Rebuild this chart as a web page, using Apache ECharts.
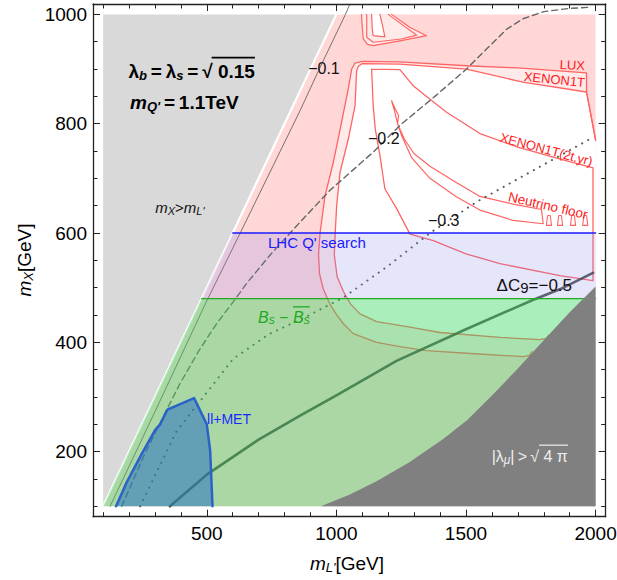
<!DOCTYPE html>
<html><head><meta charset="utf-8">
<script src="https://cdn.jsdelivr.net/npm/echarts@6/dist/echarts.min.js"></script>
<style>html,body{margin:0;padding:0;background:#fff}#c{width:617px;height:580px}</style>
</head><body><div id="c"></div>
<script>
// ---------------- data ----------------
const xMajor = [500, 1000, 1500, 2000];
const xMinor = [100,200,300,400,500,600,700,800,900,1000,1100,1200,1300,1400,1500,1600,1700,1800,1900,2000];
const yMajor = [200, 400, 600, 800, 1000];
const yMinor = [100,150,200,250,300,350,400,450,500,550,600,650,700,750,800,850,900,950,1000];

// m_X > m_L' region
const grayRegion = [[100,100],[1000,1000],[100,1000]];
const diagLine = [[100,100],[1000,1000]];
// LUX excluded (everything right of diagonal, minus LUX interior)
const pinkRegion = [[100,100],[1000,1000],[2000,1000],[2000,100]];
// LUX contour (visible part) and its closure hidden under the perturbativity region
const luxLine = [[2000,770],[1998,776],[1965,858],[1965,893],[1700,902],[1502,906],[1245,913],[1100,914],[1072,911],[1059,900],[1046,864],[1020,803],[988,729],[956,668],[937,600],[931,560],[935,525],[950,497],[975,470],[1000,451],[1027,434],[1065,416],[1155,400],[1245,392],[1348,385],[1502,380],[1720,374],[1745,376],[1755,383]];
const luxClose = [[1850,383],[2000,383]];
// XENON1T contour
const xenonLine = [[2000,770],[1965,858],[1719,876],[1502,900],[1245,909],[1100,910],[1085,905],[1078,897],[1072,833],[1046,772],[1014,711],[1001,650],[995,595],[992,560],[1003,520],[1027,493],[1055,470],[1091,452],[1155,438],[1284,428],[1400,418],[1631,409],[1785,405],[1810,407],[1818,413]];
const xenonClose = [[1900,413],[2000,413]];
// XENON1T(2t.yr) contour
const xenon2tLine = [[1136,900],[1245,899],[1295,870],[1360,845],[1425,821],[1554,782],[1700,757],[1850,737],[1990,719],[1990,513],[1862,522],[1631,544],[1500,562],[1374,586],[1284,598],[1232,645],[1187,681],[1168,742],[1150,790],[1142,833],[1136,900]];
// Neutrino floor contour
const nuFloorLine = [[1213,842],[1228,826],[1240,815],[1236,800],[1262,772],[1300,745],[1361,722],[1464,692],[1554,667],[1682,653],[1791,643],[1798,617],[1682,623],[1554,642],[1464,666],[1361,700],[1290,738],[1252,778],[1236,800],[1225,822],[1213,842]];
const nuTeeth = [
  [[1810,614],[1815,632],[1825,632],[1830,614],[1810,614]],
  [[1853,614],[1858,632],[1868,632],[1873,614],[1853,614]],
  [[1903,614],[1908,632],[1918,632],[1923,614],[1903,614]],
  [[1950,614],[1955,632],[1965,632],[1970,614],[1950,614]]
];
// small island near the top
const islandOuter = [[1097,1000],[1100,975],[1104,955],[1120,945],[1142,943],[1250,952],[1348,961],[1284,976],[1213,1000]];
const islandMid = [[1117,1000],[1117,958],[1142,949],[1250,955],[1310,962],[1260,979],[1200,1000]];
const islandInner = [[1136,1000],[1138,975],[1142,961],[1187,959],[1180,975],[1168,1000]];

// Delta C9 contours
const c01 = [[127,100],[300,273],[500,476],[629,600],[860,824],[937,903],[1035,1000],[1052,1019]];
const c02 = [[172,100],[255,190],[330,262],[397,325],[470,385],[539,435],[602,474],[654,508],[750,563],[860,620],[975,678],[1142,748],[1250,799],[1380,850],[1502,900],[1580,937],[1657,973],[1720,992],[1800,1005],[1900,1011],[1978,1013]];
const c03 = [[243,100],[301,157],[384,238],[500,308],[602,370],[740,415],[880,446],[1027,482],[1200,540],[1361,600],[1541,657],[1780,720],[1990,775]];
const c05 = [[358,100],[500,158],[700,222],[860,266],[1000,303],[1232,366],[1500,424],[1760,478],[1862,497],[1990,527]];

// LHC Q' search, Bs mixing
const lhcRegion = [[480,480],[600,600],[2000,600],[2000,480]];
const lhcLine = [[600,600],[2000,600]];
const bsRegion = [[100,100],[480,480],[2000,480],[2000,100]];
const bsLine = [[480,480],[2000,480]];
// ll+MET
const llmet = [[150,100],[191,144],[249,196],[301,240],[320,250],[348,277],[451,298],[500,250],[513,202],[522,100]];
// |lambda_mu| > sqrt(4 pi)
const lamRegion = [[940,100],[1050,121],[1155,146],[1280,180],[1412,223],[1505,258],[1605,305],[1700,352],[1800,404],[1900,455],[2000,502],[2000,100]];

// ---------------- chart ----------------
const FONT = "'Liberation Sans', Arial, Helvetica, sans-serif";
const chart = echarts.init(document.getElementById('c'), null, {renderer: 'svg'});
const FRAME = '#222';
let zc = 1;
function poly(pts, fill) {
  return {type: 'custom', silent: true, animation: false, clip: true, z: zc++, data: [[pts[0][0], pts[0][1]]],
    renderItem: (params, api) => ({type: 'polygon', shape: {points: pts.map(p => api.coord(p))}, style: {fill: fill, stroke: null}})};
}
function line(pts, color, width, type, opacity) {
  return {type: 'line', silent: true, animation: false, z: zc++, data: pts, symbol: 'none', smooth: false,
    lineStyle: {color: color, width: width, type: type || 'solid', cap: 'round', join: 'round', opacity: opacity == null ? 1 : opacity}};
}
const plain = v => String(v);
function mkX(pos, ticks, len, showLine, showLabel) {
  return {type: 'value', min: 61, max: 2039, position: pos, z: 100,
    axisLine: {show: showLine, onZero: false, lineStyle: {color: FRAME, width: 1.3}},
    axisTick: {show: true, inside: true, length: len, customValues: ticks, lineStyle: {color: FRAME, width: 1}},
    axisLabel: {show: showLabel, customValues: ticks, formatter: plain, fontSize: 19, color: '#000', fontFamily: FONT, margin: 7},
    splitLine: {show: false}};
}
function mkY(pos, ticks, len, showLine, showLabel) {
  return {type: 'value', min: 81, max: 1019, position: pos, z: 100,
    axisLine: {show: showLine, onZero: false, lineStyle: {color: FRAME, width: 1.3}},
    axisTick: {show: true, inside: true, length: len, customValues: ticks, lineStyle: {color: FRAME, width: 1}},
    axisLabel: {show: showLabel, customValues: ticks, formatter: plain, fontSize: 19, color: '#000', fontFamily: FONT, margin: 6},
    splitLine: {show: false}};
}

const red = '#ff6464';
const series = [
  poly(grayRegion, '#d9d9d9'),
  poly(pinkRegion, '#ffd7d7'),
  poly(luxLine.concat(luxClose), '#ffeaea'),
  poly(xenonLine.concat(xenonClose), '#ffffff'),
  poly(islandOuter, '#ffeaea'),
  poly(islandInner, '#ffffff'),
  line(diagLine, '#ffffff', 2.2),
  line(luxLine, red, 1.3),
  line(xenonLine, red, 1.3),
  line(xenon2tLine, red, 1.3),
  line(nuFloorLine, red, 1.2),
  line(nuTeeth[0], red, 1.1), line(nuTeeth[1], red, 1.1), line(nuTeeth[2], red, 1.1), line(nuTeeth[3], red, 1.1),
  line(islandOuter, red, 1.2), line(islandMid, red, 1.2), line(islandInner, red, 1.2),
  line(c01, '#555555', 0.8),
  line(c02, '#666666', 1.4, [6, 4]),
  line(c03, '#555555', 2.0, [0.1, 6.8]),
  line(c05, 'rgba(45,45,45,0.8)', 2.6),
  poly(lhcRegion, 'rgba(136,136,231,0.21)'),
  poly(bsRegion, 'rgba(53,215,93,0.42)'),
  line(lhcLine, '#1a1aff', 1.3),
  line(bsLine, '#22aa22', 1.2),
  poly(llmet, 'rgba(30,100,200,0.49)'),
  line(llmet, '#2a62c8', 2.5),
  poly(lamRegion, '#808080')
];

chart.setOption({
  animation: false,
  backgroundColor: '#fff',
  grid: {left: 93, right: 11.3, top: 4, bottom: 63.3, containLabel: false, outerBoundsMode: 'none'},
  xAxis: [mkX('bottom', xMajor, 7, true, true), mkX('bottom', xMinor, 4.5, false, false),
          mkX('top', xMajor, 7, true, false), mkX('top', xMinor, 4.5, false, false)],
  yAxis: [mkY('left', yMajor, 7, true, true), mkY('left', yMinor, 4.5, false, false),
          mkY('right', yMajor, 7, true, false), mkY('right', yMinor, 4.5, false, false)],
  series: series
});

// ---------------- text annotations ----------------
const ctx = document.createElement('canvas').getContext('2d');
function tw(t, s) { ctx.font = (s.style || 'normal') + ' ' + (s.weight || 'normal') + ' ' + s.size + 'px ' + FONT; return ctx.measureText(t).width; }
const NB = '\u00a0', TH = '\u2009';
function label(px, py, segs, color, opt) {
  opt = opt || {};
  let text = '', rich = {}, x = 0; const offs = [];
  segs.forEach((s, i) => {
    const k = 't' + i;
    rich[k] = {fontSize: s.size, fontWeight: s.weight || 'normal', fontStyle: s.style || 'normal', fontFamily: FONT, fill: color};
    if (s.sub) rich[k].padding = [s.sub, 0, 0, 0];
    text += '{' + k + '|' + s.t + '}';
    offs.push(x); x += tw(s.t, s);
  });
  const align = opt.align || 'left';
  const left = align === 'left' ? 0 : (align === 'center' ? -x / 2 : -x);
  const els = [{type: 'text', x: px, y: py, rotation: (opt.rot || 0) * Math.PI / 180, z: 200, silent: true,
    style: {text: text, rich: rich, fill: color, align: align, verticalAlign: 'middle', textAlign: align, textVerticalAlign: 'middle'}}];
  if (opt.over) {
    const [i0, i1, dy, th] = opt.over;
    const x0 = px + left + offs[i0] - (opt.overPad || 0);
    const x1 = px + left + offs[i1] + tw(segs[i1].t, segs[i1]);
    els.push({type: 'rect', z: 200, silent: true, shape: {x: x0, y: py + dy, width: x1 - x0, height: th || 1.4}, style: {fill: color}});
  }
  return els;
}
const P = (x, y) => chart.convertToPixel({xAxisIndex: 0, yAxisIndex: 0}, [x, y]);
function at(d, segs, color, opt) { const p = P(d[0], d[1]); return label(p[0], p[1], segs, color, opt); }

let g = [];
g = g.concat(at([198, 896], [
  {t: 'λ', size: 19, weight: 'bold'}, {t: 'b', size: 13, weight: 'bold', style: 'italic', sub: 8},
  {t: TH + '=' + TH, size: 19, weight: 'bold'}, {t: 'λ', size: 19, weight: 'bold'}, {t: 's', size: 13, weight: 'bold', style: 'italic', sub: 8},
  {t: TH + '=' + TH + '√', size: 19, weight: 'bold'}, {t: NB + '0.15', size: 19, weight: 'bold'}], '#000', {over: [6, 6, -14.5, 1.8], overPad: 1}));
g = g.concat(at([204, 839], [
  {t: 'm', size: 19, weight: 'bold', style: 'italic'}, {t: "Q'", size: 13, weight: 'bold', style: 'italic', sub: 8},
  {t: TH + '=' + TH + '1.1TeV', size: 19, weight: 'bold'}], '#000'));
g = g.concat(at([301, 647], [
  {t: 'm', size: 15, style: 'italic'}, {t: 'X', size: 11, style: 'italic', sub: 7},
  {t: '>', size: 15}, {t: 'm', size: 15, style: 'italic'}, {t: "L'", size: 11, style: 'italic', sub: 7}], '#111'));
g = g.concat(at([736, 582], [{t: "LHC Q' search", size: 15}], '#1a1aff'));
g = g.concat(at([698, 446], [
  {t: 'B', size: 16, style: 'italic'}, {t: 's', size: 12, style: 'italic', sub: 6},
  {t: NB + '−' + NB, size: 16}, {t: 'B', size: 16, style: 'italic'}, {t: 's', size: 12, style: 'italic', sub: 6}], '#22aa22', {over: [3, 4, -11, 1.3]}));
g = g.concat(at([501, 260], [{t: 'll+MET', size: 14}], '#1a2aff'));
g = g.concat(at([1599, 191], [
  {t: '|λ', size: 16}, {t: 'μ', size: 12, style: 'italic', sub: 6}, {t: '|' + TH + '>' + TH + '√', size: 16},
  {t: NB + '4' + NB + 'π', size: 16}], '#eeeeee', {over: [3, 3, -12, 1.2]}));
g = g.concat(at([891, 901], [{t: '−0.1', size: 16}], '#111'));
g = g.concat(at([1122, 773], [{t: '−0.2', size: 16}], '#111'));
g = g.concat(at([1353, 623], [{t: '−0.3', size: 16}], '#111'));
g = g.concat(at([1618, 504], [{t: 'ΔC', size: 17}, {t: '9', size: 15, sub: 4}, {t: '=−0.5', size: 17}], '#111'));
g = g.concat(at([1959, 906], [{t: 'LUX', size: 13}], '#ff2020', {align: 'right', rot: -3}));
g = g.concat(at([1959, 875], [{t: 'XENON1T', size: 13}], '#ff2020', {align: 'right', rot: -6}));
g = g.concat(at([1810, 753], [{t: 'XENON1T(2t.yr)', size: 13}], '#ff2020', {align: 'center', rot: -15}));
g = g.concat(at([1816, 650], [{t: 'Neutrino floor', size: 13.5}], '#ff2020', {align: 'center', rot: -13}));
// axis titles
g = g.concat(label(347, 563, [{t: 'm', size: 19, style: 'italic'}, {t: "L'", size: 13, style: 'italic', sub: 8}, {t: '[GeV]', size: 19}], '#000', {align: 'center'}));
g = g.concat(label(24, 260, [{t: 'm', size: 19, style: 'italic'}, {t: 'X', size: 13, style: 'italic', sub: 8}, {t: '[GeV]', size: 19}], '#000', {align: 'center', rot: 90}));

chart.setOption({graphic: {elements: g}});
</script></body></html>
